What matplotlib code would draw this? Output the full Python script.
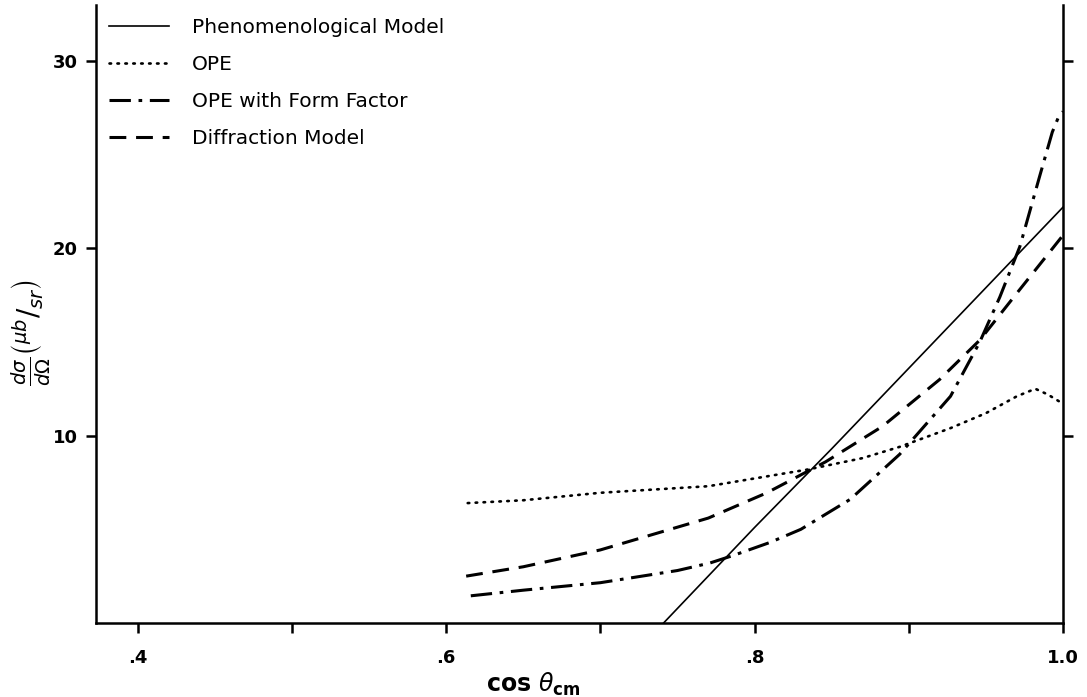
import numpy as np
import matplotlib
matplotlib.use('Agg')
from matplotlib import pyplot as plt

# values
pheno_x = [0.741, 0.80, 0.85, 0.90, 0.95, 1.0]
pheno_y = [0.0, 5.1, 9.3, 13.6, 17.9, 22.2]

ope_x = [0.614, 0.65, 0.70, 0.77, 0.835, 0.87, 0.894, 0.927, 0.95, 0.97, 0.982, 0.99, 1.0]
ope_y = [6.4, 6.55, 6.95, 7.3, 8.2, 8.8, 9.4, 10.4, 11.2, 12.1, 12.5, 12.2, 11.7]

ff_x = [0.616, 0.65, 0.70, 0.75, 0.771, 0.786, 0.81, 0.83, 0.862, 0.894, 0.927, 0.946,
        0.959, 0.972, 0.985, 0.993, 0.997, 1.0]
ff_y = [1.45, 1.75, 2.15, 2.8, 3.2, 3.6, 4.3, 5.0, 6.6, 9.0, 12.1, 15.0,
        17.4, 20.1, 23.9, 26.2, 27.0, 27.3]

diff_x = [0.613, 0.65, 0.70, 0.77, 0.808, 0.846, 0.883, 0.92, 0.946, 0.97, 1.0]
diff_y = [2.5, 3.0, 3.9, 5.6, 6.95, 8.6, 10.5, 13.0, 15.1, 17.6, 20.7]

labels = ['Phenomenological Model', 'OPE', 'OPE with Form Factor', 'Diffraction Model']

fig = plt.figure(figsize=(10.87, 6.97), dpi=100)
ax = fig.add_axes([0.0883, 0.1062, 0.8897, 0.887])

ax.plot(pheno_x, pheno_y, color='black', lw=1.2, label=labels[0])
ax.plot(ope_x, ope_y, color='black', lw=1.9, linestyle=(0, (0.6, 2.4)),
        dash_capstyle='round', label=labels[1])
ax.plot(ff_x, ff_y, color='black', lw=2.2, linestyle=(0, (7, 2.5, 1.2, 2.5)), label=labels[2])
ax.plot(diff_x, diff_y, color='black', lw=2.2, linestyle=(0, (5.5, 3.2)), label=labels[3])

ax.set_xlim(0.373, 1.0)
ax.set_ylim(0, 33.0)

ax.set_xticks([0.4, 0.6, 0.8, 1.0])
ax.set_xticklabels(['.4', '.6', '.8', '1.0'], fontweight='bold')
ax.set_xticks([0.5, 0.7, 0.9], minor=True)
ax.set_yticks([10, 20, 30])
ax.set_yticklabels(['10', '20', '30'], fontweight='bold')

ax.spines['top'].set_visible(False)
for s in ['left', 'right', 'bottom']:
    ax.spines[s].set_linewidth(1.8)

ax.tick_params(axis='both', which='both', direction='out', length=7, width=1.8,
               labelsize=13, pad=6)
ax.tick_params(axis='x', which='major', pad=12)
ax.tick_params(axis='y', which='both', right=True)

ax.set_xlabel(r'cos $\theta_{\mathbf{cm}}$', fontsize=17, fontweight='bold')
ax.xaxis.set_label_coords(0.452, -0.078)
ax.set_ylabel(r'$\frac{d\sigma}{d\Omega}\left(^{\mu b}/_{sr}\right)$', fontsize=20)
ax.yaxis.set_label_coords(-0.044, 0.47)

leg = ax.legend(loc='upper left', frameon=False, fontsize=14.5, handlelength=3.0,
                handletextpad=1.1, labelspacing=0.9, bbox_to_anchor=(0.0, 1.0),
                borderaxespad=0.25)

fig.savefig('out.png', dpi=100)
